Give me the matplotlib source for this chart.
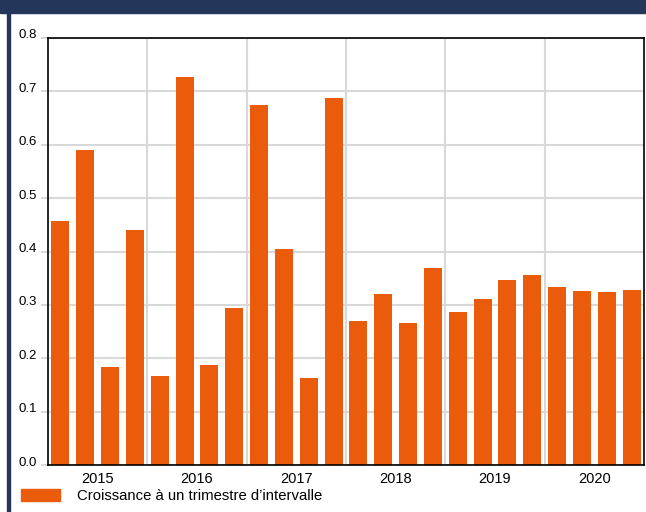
import numpy as np
import matplotlib.pyplot as plt
import matplotlib.transforms as mtransforms
from matplotlib.patches import Rectangle, Patch

plt.rcParams['font.family'] = ['Liberation Sans', 'DejaVu Sans']

years = ['2015', '2016', '2017', '2018', '2019', '2020']
growth = [0.458, 0.591, 0.184, 0.441, 0.167, 0.726, 0.188, 0.295,
          0.675, 0.405, 0.163, 0.687, 0.270, 0.321, 0.266, 0.370,
          0.287, 0.311, 0.347, 0.356, 0.334, 0.326, 0.325, 0.327]
series_label = 'Croissance à un trimestre d\u2019intervalle'

orange = '#EA5B0C'
navy = '#24375A'
grid_col = '#D9D9D9'

fig = plt.figure(figsize=(6.46, 5.12), dpi=100)
ax = fig.add_axes([48 / 646, 47 / 512, 596 / 646, 427 / 512])

x = np.arange(len(growth))
ax.bar(x, growth, width=0.73, color=orange, zorder=2)

ax.set_xlim(-0.5, len(growth) - 0.5)
ax.set_ylim(0, 0.8)

ax.set_yticks(np.arange(0, 0.81, 0.1))
ax.set_yticklabels([f'{v:.1f}' for v in np.arange(0, 0.81, 0.1)])
ax.tick_params(axis='y', length=5, color=grid_col, width=1.5, labelsize=9.5, pad=3)
# labels sit a little above their gridline
shift = mtransforms.ScaledTranslation(0, 4 / 100, fig.dpi_scale_trans)
for lab in ax.get_yticklabels():
    lab.set_transform(lab.get_transform() + shift)

ax.set_xticks(np.arange(len(years)) * 4 + 1.5)
ax.set_xticklabels(years)
ax.set_xticks(np.arange(1, len(years)) * 4 - 0.5, minor=True)
ax.tick_params(axis='x', which='both', length=0, labelsize=10.5, pad=5)

ax.grid(axis='y', which='major', color=grid_col, lw=1.5, zorder=0)
ax.grid(axis='x', which='minor', color=grid_col, lw=1.5, zorder=0)
ax.set_axisbelow(True)

for s in ax.spines.values():
    s.set_color('black')
    s.set_linewidth(1.2)
    s.set_zorder(3)

# header band and left border
fig.patches.append(Rectangle((0, 1 - 13 / 512), 1, 13 / 512, transform=fig.transFigure,
                             color=navy, zorder=0))
fig.patches.append(Rectangle((7 / 646, 0), 3 / 646, 1, transform=fig.transFigure,
                             color=navy, zorder=0))

fig.legend(handles=[Patch(color=orange, label=series_label)], loc='center left',
           bbox_to_anchor=(21 / 646, 16 / 512), frameon=False, fontsize=10.7,
           handlelength=2.6, handleheight=0.9, handletextpad=1.2, borderpad=0,
           borderaxespad=0)

fig.savefig('out.png', dpi=100)
